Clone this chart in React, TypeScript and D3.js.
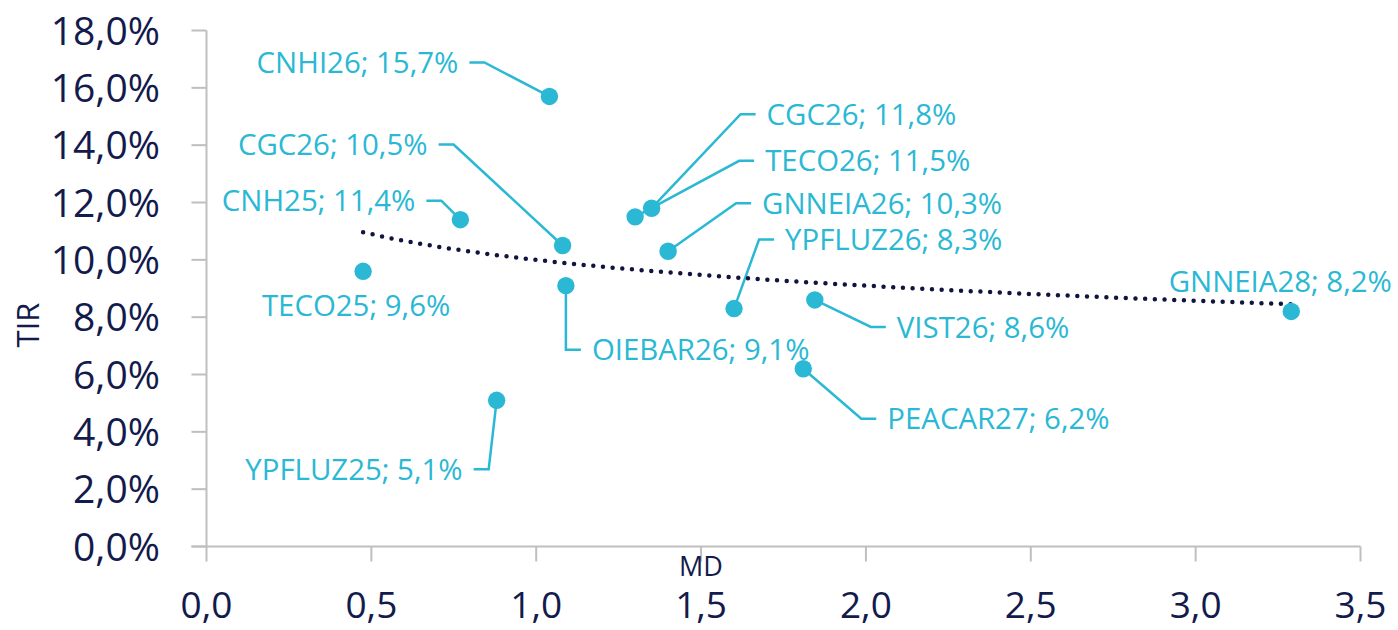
import React from 'react';
import * as d3 from 'd3';

// bonds: modified duration (MD) vs IRR (TIR, %)
const names = [
  'CNHI26', 'CGC26', 'CNH25', 'TECO25', 'CGC26', 'TECO26', 'GNNEIA26',
  'YPFLUZ26', 'VIST26', 'PEACAR27', 'OIEBAR26', 'YPFLUZ25', 'GNNEIA28',
];
const md = [1.04, 1.08, 0.77, 0.475, 1.35, 1.3, 1.4, 1.6, 1.845, 1.81, 1.09, 0.88, 3.29];
const tir = [15.7, 10.5, 11.4, 9.6, 11.8, 11.5, 10.3, 8.3, 8.6, 6.2, 9.1, 5.1, 8.2];

const xTicks = [0, 0.5, 1, 1.5, 2, 2.5, 3, 3.5];
const yTicks = [0, 2, 4, 6, 8, 10, 12, 14, 16, 18];

// label placement (pixel offset of text anchor from the point)
const labelLayout: { dx: number; dy: number; anchor: 'start' | 'end' | 'middle' }[] = [
  { dx: -91, dy: -34, anchor: 'end' },
  { dx: -135, dy: -101, anchor: 'end' },
  { dx: -45, dy: -19, anchor: 'end' },
  { dx: -7, dy: 34, anchor: 'middle' },
  { dx: 115, dy: -94, anchor: 'start' },
  { dx: 130, dy: -56, anchor: 'start' },
  { dx: 94, dy: -48, anchor: 'start' },
  { dx: 51, dy: -69, anchor: 'start' },
  { dx: 82, dy: 27, anchor: 'start' },
  { dx: 84, dy: 50, anchor: 'start' },
  { dx: 26, dy: 64, anchor: 'start' },
  { dx: -34, dy: 69, anchor: 'end' },
  { dx: -11, dy: -30, anchor: 'middle' },
];

const W = 1398;
const H = 630;
const CYAN = '#2ab8d4';
const NAVY = '#131a4c';
const AXIS = '#bfbfbf';
const FONT = '"Open Sans", "Noto Sans", sans-serif';

const comma = (s: string) => s.replace('.', ',');
const fmtPct = (v: number) => comma(d3.format('.1f')(v)) + '%';

export default function App() {
  const x = d3.scaleLinear().domain([0, 3.5]).range([206.5, 1360.5]);
  const y = d3.scaleLinear().domain([0, 18]).range([546.5, 30.5]);

  // logarithmic trendline (least squares on ln(MD))
  const lx = md.map(Math.log);
  const mx = d3.mean(lx) as number;
  const my = d3.mean(tir) as number;
  const b = d3.sum(lx, (v, i) => (v - mx) * (tir[i] - my)) / d3.sum(lx, v => (v - mx) ** 2);
  const a = my - b * mx;
  const [x0, x1] = d3.extent(md) as [number, number];
  const trendX = d3.range(0, 101).map(i => x0 + ((x1 - x0) * i) / 100);
  const trend = d3
    .line<number>()
    .x(v => x(v))
    .y(v => y(a + b * Math.log(v)))(trendX);

  return (
    <svg width={W} height={H} style={{ position: 'absolute', left: 0, top: 0, background: '#fff' }}>
      {/* axes */}
      <g stroke={AXIS} strokeWidth={2} fill="none">
        <line x1={x(0)} x2={x(0)} y1={y(18)} y2={y(0)} />
        <line x1={x(0) - 15} x2={x(3.5)} y1={y(0)} y2={y(0)} />
        {yTicks.map(t => (
          <line key={'yt' + t} x1={x(0) - 15} x2={x(0)} y1={y(t)} y2={y(t)} />
        ))}
        {xTicks.map(t => (
          <line key={'xt' + t} x1={x(t)} x2={x(t)} y1={y(0)} y2={y(0) + 15} />
        ))}
      </g>

      <g fill={NAVY} fontFamily={FONT} fontSize={39}>
        {yTicks.map(t => (
          <text key={'yl' + t} x={160} y={y(t)} dy="0.36em" textAnchor="end">
            {fmtPct(t)}
          </text>
        ))}
      </g>
      <g fill={NAVY} fontFamily={FONT} fontSize={37}>
        {xTicks.map(t => (
          <text key={'xl' + t} x={x(t)} y={618} textAnchor="middle">
            {comma(d3.format('.1f')(t))}
          </text>
        ))}
      </g>

      <text x={701} y={576} textAnchor="middle" fontFamily={FONT} fontSize={27} fill={NAVY}>
        MD
      </text>
      <text
        transform="translate(39,325) rotate(-90)"
        textAnchor="middle"
        fontFamily={FONT}
        fontSize={31}
        fill={NAVY}
      >
        TIR
      </text>

      {/* leader lines */}
      <g stroke={CYAN} strokeWidth={2.5} fill="none">
        {md.map((v, i) => {
          const L = labelLayout[i];
          if (L.anchor === 'middle') return null;
          const px = x(v);
          const py = y(tir[i]);
          const tx = px + L.dx;
          const ty = py + L.dy;
          const s = L.anchor === 'end' ? 1 : -1;
          const ex = tx + s * 11;
          const kx = tx + s * 26;
          return <polyline key={'ld' + i} points={`${px},${py} ${kx},${ty} ${ex},${ty}`} />;
        })}
      </g>

      {/* trendline */}
      <path
        d={trend || ''}
        fill="none"
        stroke="#10143e"
        strokeWidth={4.5}
        strokeLinecap="round"
        strokeDasharray="0 9.7"
      />

      {/* points */}
      <g fill={CYAN}>
        {md.map((v, i) => (
          <circle key={'pt' + i} cx={x(v)} cy={y(tir[i])} r={8.7} />
        ))}
      </g>

      {/* data labels */}
      <g fill={CYAN} fontFamily={FONT} fontSize={29.4}>
        {md.map((v, i) => {
          const L = labelLayout[i];
          return (
            <text
              key={'lb' + i}
              x={x(v) + L.dx}
              y={y(tir[i]) + L.dy}
              dy="0.36em"
              textAnchor={L.anchor}
            >
              {`${names[i]}; ${fmtPct(tir[i])}`}
            </text>
          );
        })}
      </g>
    </svg>
  );
}
